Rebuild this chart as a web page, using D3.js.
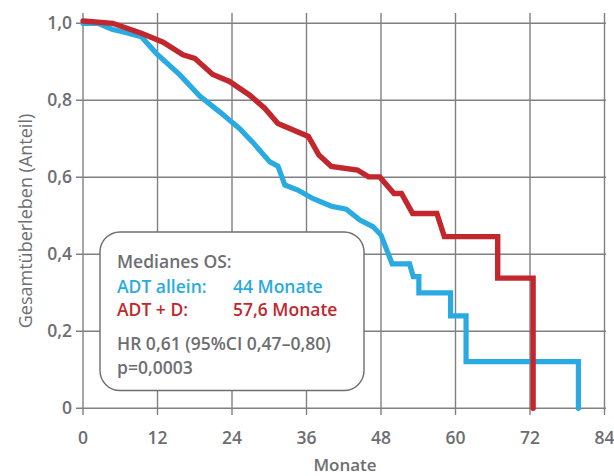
<!DOCTYPE html>
<html>
<head>
	<meta charset="utf-8">
	<title>Gesamtüberleben</title>
	<script src="https://d3js.org/d3.v7.min.js"></script>
	<style>
		body { margin: 0; background: #fff; }
		svg text { font-family: "Open Sans", "Noto Sans", sans-serif; fill: #6d6e71; }
	</style>
</head>
<body>
<div id="chart"></div>
<script type="text/javascript">

	// tick values
	var xTicks = [0, 12, 24, 36, 48, 60, 72, 84];
	var yTicks = [0, 0.2, 0.4, 0.6, 0.8, 1.0];
	var yTickLabels = ["0", "0,2", "0,4", "0,6", "0,8", "1,0"];

	// ADT allein (blue)
	var adtMonths = [0, 2.4, 4.8, 6.4, 9.4, 11.8, 15.6, 18.8, 22, 25.2, 27.4, 30.1, 31.4, 32.5, 34.6, 37.0, 40.0, 42.4, 44.6, 46.7, 48.0, 48.6, 49.8, 52.6, 53.2, 54.1, 54.1, 59.2, 59.2, 61.7, 61.7, 79.8, 79.8];
	var adtSurv = [1.0, 1.0, 0.984, 0.978, 0.965, 0.922, 0.866, 0.811, 0.770, 0.727, 0.690, 0.640, 0.629, 0.580, 0.567, 0.545, 0.525, 0.517, 0.489, 0.472, 0.450, 0.425, 0.375, 0.375, 0.342, 0.342, 0.300, 0.300, 0.240, 0.240, 0.121, 0.121, 0];

	// ADT + D (red)
	var adtdMonths = [0, 4.8, 9.4, 12.9, 16.1, 18.0, 20.9, 23.6, 26.8, 29.3, 31.4, 36.3, 38.0, 40.0, 44.2, 46.0, 47.8, 50.1, 51.3, 53.1, 57.0, 58.2, 66.8, 66.8, 72.5, 72.5];
	var adtdSurv = [1.006, 1.0, 0.974, 0.951, 0.918, 0.909, 0.867, 0.849, 0.814, 0.779, 0.740, 0.706, 0.658, 0.628, 0.619, 0.601, 0.601, 0.558, 0.558, 0.506, 0.506, 0.446, 0.446, 0.338, 0.338, 0];

	var blue = "#29abe2", red = "#c1272d", grey = "#6d6e71", gridCol = "#808083";

	var svg = d3.select("#chart").append("svg")
		.attr("width", 614)
		.attr("height", 476);

	var x = d3.scaleLinear().domain([0, 84]).range([83, 604.5]);
	var y = d3.scaleLinear().domain([0, 1]).range([408.3, 23.3]);

	var grid = svg.append("g");

	// vertical grid lines (with small ticks below the axis)
	grid.selectAll("line.v")
		.data(xTicks)
		.enter()
		.append("line")
		.attr("x1", function(d){ return x(d); })
		.attr("x2", function(d){ return x(d); })
		.attr("y1", 13)
		.attr("y2", 415)
		.style("stroke", gridCol)
		.style("stroke-width", 1.4);

	// horizontal grid lines
	grid.selectAll("line.h")
		.data(yTicks)
		.enter()
		.append("line")
		.attr("x1", 76)
		.attr("x2", 606)
		.attr("y1", function(d){ return y(d); })
		.attr("y2", function(d){ return y(d); })
		.style("stroke", gridCol)
		.style("stroke-width", 1.4);

	// tick labels
	svg.append("g").selectAll("text")
		.data(xTicks)
		.enter()
		.append("text")
		.attr("x", function(d){ return x(d); })
		.attr("y", 444)
		.attr("text-anchor", "middle")
		.style("font-size", "17.5px")
		.style("font-weight", 600)
		.text(function(d){ return d; });

	svg.append("g").selectAll("text")
		.data(yTicks)
		.enter()
		.append("text")
		.attr("x", 72)
		.attr("y", function(d){ return y(d) + 6; })
		.attr("text-anchor", "end")
		.style("font-size", "17.5px")
		.style("font-weight", 600)
		.text(function(d, i){ return yTickLabels[i]; });

	// axis titles
	svg.append("text")
		.attr("x", 345)
		.attr("y", 471)
		.attr("text-anchor", "middle")
		.style("font-size", "17px")
		.style("font-weight", 600)
		.text("Monate");

	svg.append("text")
		.attr("transform", "translate(32,221) rotate(-90)")
		.attr("text-anchor", "middle")
		.style("font-size", "18px")
		.style("font-weight", 500)
		.text("Gesamtüberleben (Anteil)");

	// legend box
	var box = svg.append("g");
	box.append("rect")
		.attr("x", 100)
		.attr("y", 232)
		.attr("width", 264)
		.attr("height", 158.5)
		.attr("rx", 20)
		.style("fill", "#fff")
		.style("stroke", grey)
		.style("stroke-width", 1.4);

	var rows = [
		{t: "Medianes OS:", c: grey, x: 117, y: 268},
		{t: "ADT allein:", c: blue, x: 117, y: 292.5},
		{t: "44 Monate", c: blue, x: 233, y: 292.5},
		{t: "ADT + D:", c: red, x: 117, y: 315.5},
		{t: "57,6 Monate", c: red, x: 233, y: 315.5},
		{t: "HR 0,61 (95%CI 0,47–0,80)", c: grey, x: 117, y: 349.5},
		{t: "p=0,0003", c: grey, x: 117, y: 373.5}
	];
	box.selectAll("text.row")
		.data(rows)
		.enter()
		.append("text")
		.attr("x", function(d){ return d.x; })
		.attr("y", function(d){ return d.y; })
		.style("font-size", "17.5px")
		.style("font-weight", 600)
		.style("fill", function(d){ return d.c; })
		.text(function(d){ return d.t; });

	// survival curves
	var line = d3.line()
		.x(function(d){ return x(d[0]); })
		.y(function(d){ return y(d[1]); });

	var adt = d3.zip(adtMonths, adtSurv);
	var adtd = d3.zip(adtdMonths, adtdSurv);

	svg.append("path")
		.datum(adt)
		.attr("d", line)
		.style("fill", "none")
		.style("stroke", blue)
		.style("stroke-width", 5.2)
		.style("stroke-linecap", "round")
		.style("stroke-linejoin", "miter");

	svg.append("path")
		.datum(adtd)
		.attr("d", line)
		.style("fill", "none")
		.style("stroke", red)
		.style("stroke-width", 5.4)
		.style("stroke-linecap", "round")
		.style("stroke-linejoin", "miter");

</script>
</body>
</html>
